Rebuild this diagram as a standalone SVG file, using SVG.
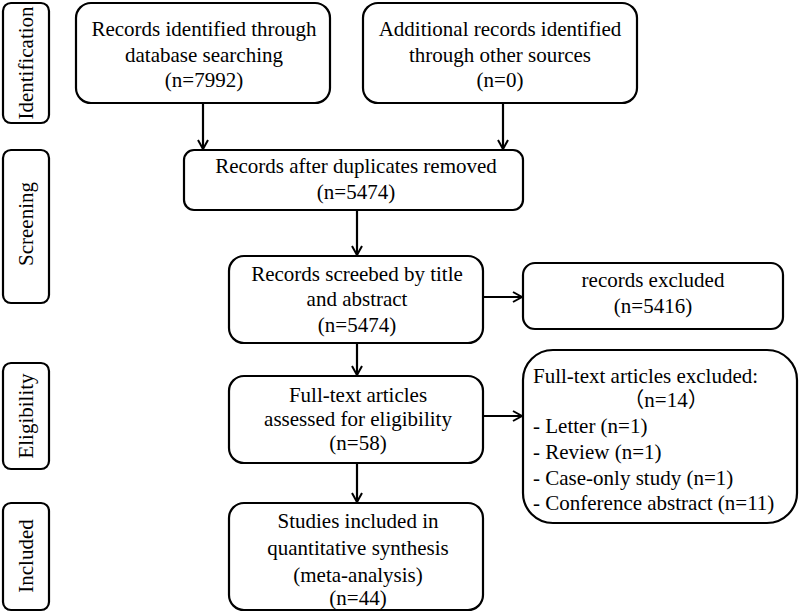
<svg xmlns="http://www.w3.org/2000/svg" width="800" height="613" viewBox="0 0 800 613">
<defs>
<marker id="ah" markerWidth="12" markerHeight="12" refX="10" refY="6" orient="auto" markerUnits="userSpaceOnUse">
<path d="M1,1 L10,6 L1,11" fill="none" stroke="#000" stroke-width="2"/>
</marker>
<style>
.b{fill:#fff;stroke:#000;stroke-width:2.2}
.t{font-family:"Liberation Serif","Times New Roman",serif;font-size:21px;fill:#000;text-anchor:middle}
.l{text-anchor:start}
.c{stroke:#000;stroke-width:2.2;fill:none;marker-end:url(#ah)}
</style>
</defs>
<rect width="800" height="613" fill="#fff"/>
<g id="stage-identification"><rect class="b" x="3" y="3" width="46" height="120" rx="8"/><text class="t" transform="translate(33,63) rotate(-90)">Identification</text></g>
<g id="stage-screening"><rect class="b" x="3" y="150" width="46" height="153" rx="8"/><text class="t" transform="translate(33,224) rotate(-90)">Screening</text></g>
<g id="stage-eligibility"><rect class="b" x="3" y="363" width="46" height="106" rx="8"/><text class="t" transform="translate(33,416) rotate(-90)">Eligibility</text></g>
<g id="stage-included"><rect class="b" x="3" y="503" width="46" height="107" rx="8"/><text class="t" transform="translate(33,556) rotate(-90)">Included</text></g>

<g id="n-database"><rect class="b" x="76" y="3" width="254" height="100" rx="15"/>
<text class="t" x="204" y="36">Records identified through</text><text class="t" x="204" y="61.5">database searching</text><text class="t" x="204" y="87">(n=7992)</text></g>
<g id="n-other"><rect class="b" x="363" y="3" width="274" height="100" rx="15"/>
<text class="t" x="500" y="36">Additional records identified</text><text class="t" x="500" y="61.5">through other sources</text><text class="t" x="500" y="87">(n=0)</text></g>
<g id="n-duplicates"><rect class="b" x="184" y="150" width="339" height="60" rx="10"/>
<text class="t" x="356" y="173">Records after duplicates removed</text><text class="t" x="356" y="199">(n=5474)</text></g>
<g id="n-screened"><rect class="b" x="229" y="256" width="254" height="87" rx="15"/>
<text class="t" x="357" y="281">Records screebed by title</text><text class="t" x="357" y="306">and abstract</text><text class="t" x="357" y="332">(n=5474)</text></g>
<g id="n-excluded"><rect class="b" x="523" y="263" width="260" height="66" rx="12"/>
<text class="t" x="653" y="287">records excluded</text><text class="t" x="653" y="313">(n=5416)</text></g>
<g id="n-fulltext"><rect class="b" x="229" y="376" width="254" height="87" rx="15"/>
<text class="t" x="358" y="402">Full-text articles</text><text class="t" x="358" y="426">assessed for eligibility</text><text class="t" x="358" y="450">(n=58)</text></g>
<g id="n-ft-excluded"><rect class="b" x="523" y="350" width="274" height="173" rx="30"/>
<text class="t l" x="533" y="383">Full-text articles excluded:</text>
<text class="t" x="666" y="407" style="font-family:'Liberation Serif','Noto Sans CJK SC',serif">（n=14）</text>
<text class="t l" x="533" y="433">- Letter (n=1)</text>
<text class="t l" x="533" y="459">- Review (n=1)</text>
<text class="t l" x="533" y="485">- Case-only study (n=1)</text>
<text class="t l" x="533" y="510">- Conference abstract (n=11)</text></g>
<g id="n-included"><rect class="b" x="229" y="503" width="254" height="107" rx="15"/>
<text class="t" x="358" y="528">Studies included in</text><text class="t" x="358" y="555">quantitative synthesis</text><text class="t" x="358" y="582">(meta-analysis)</text><text class="t" x="358" y="605">(n=44)</text></g>

<g id="connectors">
<line class="c" x1="203" y1="103" x2="203" y2="149"/>
<line class="c" x1="503" y1="103" x2="503" y2="149"/>
<line class="c" x1="357" y1="210" x2="357" y2="255"/>
<line class="c" x1="483" y1="297" x2="522" y2="297"/>
<line class="c" x1="357" y1="343" x2="357" y2="375"/>
<line class="c" x1="483" y1="416" x2="522" y2="416"/>
<line class="c" x1="357" y1="463" x2="357" y2="502"/>
</g>
</svg>
